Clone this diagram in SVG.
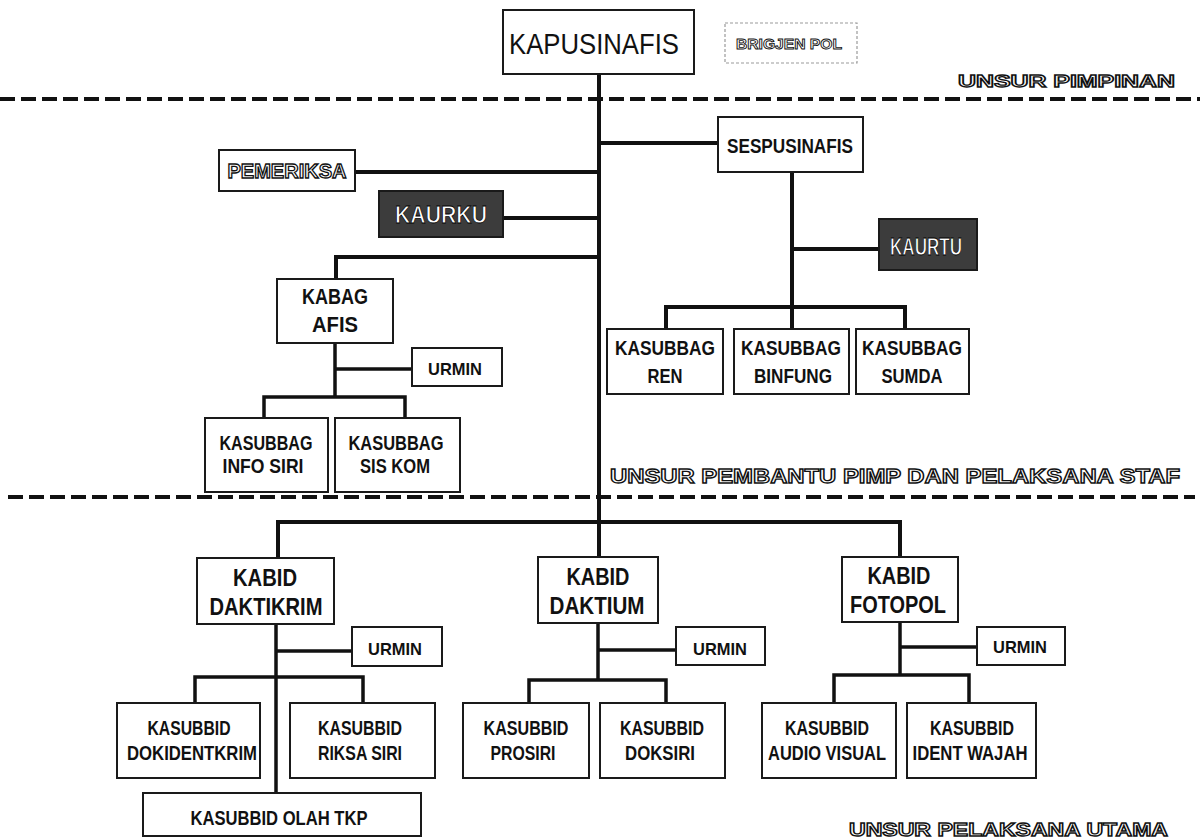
<svg xmlns="http://www.w3.org/2000/svg" width="1200" height="839" viewBox="0 0 1200 839">
<style>
.box{fill:#fff;stroke:#1a1a1a;stroke-width:2}
.dark{fill:#3c3c3c;stroke:#1a1a1a;stroke-width:2}
.faint{fill:#fff;stroke:#9a9a9a;stroke-width:1.2;stroke-dasharray:3 2}
.t{font-family:"Liberation Sans Narrow","Liberation Sans",Arial,sans-serif;font-weight:bold;fill:#111;text-anchor:middle}
.reg{font-weight:normal}
.hollow{font-family:"Liberation Sans",Arial,sans-serif;font-weight:bold;fill:#fff;stroke:#111;stroke-width:1.3;text-anchor:middle}
.inv{font-family:"Liberation Sans",Arial,sans-serif;font-weight:bold;fill:#fff;stroke:#000;stroke-width:0.8;text-anchor:middle}
.lbl{font-family:"Liberation Sans",Arial,sans-serif;font-weight:bold;fill:#fff;stroke:#111;stroke-width:1.3}
.c{fill:none;stroke:#111;stroke-width:4}
.c2{fill:none;stroke:#111;stroke-width:3.5}
.dash{fill:none;stroke:#111;stroke-width:4;stroke-dasharray:15 6}
</style>

<g id="dividers">
<line class="dash" x1="0" y1="99" x2="1200" y2="99"/>
<line class="dash" x1="8" y1="497" x2="1195" y2="497"/>
</g>

<g id="connectors">
<path class="c" d="M599 74V522"/>
<path class="c" d="M599 143H718"/>
<path class="c" d="M355 172H599"/>
<path class="c" d="M503 218H599"/>
<path class="c" d="M599 257H336V279"/>
<path class="c" d="M792 172V329"/>
<path class="c" d="M792 249H879"/>
<path class="c" d="M666 329V307H905V329"/>
<path class="c2" d="M335 343V397"/>
<path class="c2" d="M335 369H412"/>
<path class="c2" d="M264 418V397H405V418"/>
<path class="c" d="M278 558V522H900V557"/>
<path class="c" d="M599 522V557"/>
<path class="c2" d="M276 624V793"/>
<path class="c2" d="M276 651H352"/>
<path class="c2" d="M195 703V677H363V703"/>
<path class="c2" d="M598 623V680"/>
<path class="c2" d="M598 650H676"/>
<path class="c2" d="M529 703V680H666V703"/>
<path class="c2" d="M900 622V675"/>
<path class="c2" d="M900 647H977"/>
<path class="c2" d="M834 703V675H969V703"/>
</g>

<g id="kapusinafis"><rect class="box" x="503" y="10" width="191" height="64"/><text class="t reg" x="594" y="54" font-size="30" textLength="170" lengthAdjust="spacingAndGlyphs">KAPUSINAFIS</text></g>
<g id="brigjen"><rect class="faint" x="725" y="23" width="132" height="40"/><text class="hollow" x="789" y="49" font-size="15" textLength="106" lengthAdjust="spacingAndGlyphs" style="stroke-width:0.9">BRIGJEN POL</text></g>
<g id="sespusinafis"><rect class="box" x="718" y="117" width="145" height="55"/><text class="t" x="790" y="153" font-size="21" textLength="126" lengthAdjust="spacingAndGlyphs">SESPUSINAFIS</text></g>
<g id="kaurtu"><rect class="dark" x="879" y="219" width="98" height="51"/><text class="inv" x="926" y="255" font-size="24" textLength="72" lengthAdjust="spacingAndGlyphs">KAURTU</text></g>
<g id="kasubbag-ren"><rect class="box" x="607" y="329" width="116" height="65"/><text class="t" x="665" y="355" font-size="21" textLength="100" lengthAdjust="spacingAndGlyphs">KASUBBAG</text><text class="t" x="665" y="383" font-size="21" textLength="35" lengthAdjust="spacingAndGlyphs">REN</text></g>
<g id="kasubbag-binfung"><rect class="box" x="734" y="329" width="115" height="65"/><text class="t" x="791" y="355" font-size="21" textLength="100" lengthAdjust="spacingAndGlyphs">KASUBBAG</text><text class="t" x="793" y="383" font-size="21" textLength="78" lengthAdjust="spacingAndGlyphs">BINFUNG</text></g>
<g id="kasubbag-sumda"><rect class="box" x="856" y="329" width="113" height="65"/><text class="t" x="912" y="355" font-size="21" textLength="100" lengthAdjust="spacingAndGlyphs">KASUBBAG</text><text class="t" x="912" y="383" font-size="21" textLength="61" lengthAdjust="spacingAndGlyphs">SUMDA</text></g>
<g id="pemeriksa"><rect class="box" x="219" y="150" width="136" height="41"/><text class="hollow" x="287" y="178" font-size="20" textLength="119" lengthAdjust="spacingAndGlyphs">PEMERIKSA</text></g>
<g id="kaurku"><rect class="dark" x="379" y="191" width="124" height="46"/><text class="inv" x="441" y="223" font-size="24" textLength="92" lengthAdjust="spacingAndGlyphs">KAURKU</text></g>
<g id="kabag-afis"><rect class="box" x="277" y="279" width="116" height="64"/><text class="t" x="335" y="304" font-size="22" textLength="66" lengthAdjust="spacingAndGlyphs">KABAG</text><text class="t" x="335" y="332" font-size="22" textLength="46" lengthAdjust="spacingAndGlyphs">AFIS</text></g>
<g id="urmin-afis"><rect class="box" x="412" y="348" width="90" height="38"/><text class="t" x="455" y="375" font-size="17" textLength="54" lengthAdjust="spacingAndGlyphs">URMIN</text></g>
<g id="kasubbag-infosiri"><rect class="box" x="205" y="418" width="123" height="74"/><text class="t" x="266" y="450" font-size="20" textLength="93" lengthAdjust="spacingAndGlyphs">KASUBBAG</text><text class="t" x="263" y="473" font-size="20" textLength="81" lengthAdjust="spacingAndGlyphs">INFO SIRI</text></g>
<g id="kasubbag-siskom"><rect class="box" x="335" y="418" width="125" height="74"/><text class="t" x="396" y="450" font-size="20" textLength="95" lengthAdjust="spacingAndGlyphs">KASUBBAG</text><text class="t" x="395" y="473" font-size="20" textLength="70" lengthAdjust="spacingAndGlyphs">SIS KOM</text></g>

<g id="kabid-daktikrim"><rect class="box" x="197" y="558" width="137" height="66"/><text class="t" x="265" y="586" font-size="23" textLength="64" lengthAdjust="spacingAndGlyphs">KABID</text><text class="t" x="266" y="615" font-size="23" textLength="113" lengthAdjust="spacingAndGlyphs">DAKTIKRIM</text></g>
<g id="urmin-daktikrim"><rect class="box" x="352" y="627" width="90" height="39"/><text class="t" x="395" y="655" font-size="17" textLength="54" lengthAdjust="spacingAndGlyphs">URMIN</text></g>
<g id="kabid-daktium"><rect class="box" x="538" y="557" width="120" height="66"/><text class="t" x="598" y="585" font-size="23" textLength="63" lengthAdjust="spacingAndGlyphs">KABID</text><text class="t" x="597" y="614" font-size="23" textLength="95" lengthAdjust="spacingAndGlyphs">DAKTIUM</text></g>
<g id="urmin-daktium"><rect class="box" x="676" y="627" width="89" height="38"/><text class="t" x="720" y="655" font-size="17" textLength="54" lengthAdjust="spacingAndGlyphs">URMIN</text></g>
<g id="kabid-fotopol"><rect class="box" x="842" y="557" width="116" height="65"/><text class="t" x="899" y="584" font-size="23" textLength="63" lengthAdjust="spacingAndGlyphs">KABID</text><text class="t" x="898" y="613" font-size="23" textLength="96" lengthAdjust="spacingAndGlyphs">FOTOPOL</text></g>
<g id="urmin-fotopol"><rect class="box" x="977" y="627" width="88" height="38"/><text class="t" x="1020" y="653" font-size="17" textLength="54" lengthAdjust="spacingAndGlyphs">URMIN</text></g>

<g id="kasubbid-dokidentkrim"><rect class="box" x="117" y="703" width="143" height="75"/><text class="t" x="189" y="735" font-size="19.5" textLength="83" lengthAdjust="spacingAndGlyphs">KASUBBID</text><text class="t" x="192" y="760" font-size="19.5" textLength="130" lengthAdjust="spacingAndGlyphs">DOKIDENTKRIM</text></g>
<g id="kasubbid-riksasiri"><rect class="box" x="290" y="703" width="145" height="75"/><text class="t" x="360" y="735" font-size="19.5" textLength="84" lengthAdjust="spacingAndGlyphs">KASUBBID</text><text class="t" x="360" y="760" font-size="19.5" textLength="84" lengthAdjust="spacingAndGlyphs">RIKSA SIRI</text></g>
<g id="kasubbid-prosiri"><rect class="box" x="463" y="703" width="126" height="75"/><text class="t" x="526" y="735" font-size="19.5" textLength="85" lengthAdjust="spacingAndGlyphs">KASUBBID</text><text class="t" x="523" y="760" font-size="19.5" textLength="65" lengthAdjust="spacingAndGlyphs">PROSIRI</text></g>
<g id="kasubbid-doksiri"><rect class="box" x="600" y="703" width="125" height="75"/><text class="t" x="662" y="735" font-size="19.5" textLength="84" lengthAdjust="spacingAndGlyphs">KASUBBID</text><text class="t" x="660" y="760" font-size="19.5" textLength="70" lengthAdjust="spacingAndGlyphs">DOKSIRI</text></g>
<g id="kasubbid-audiovisual"><rect class="box" x="762" y="703" width="134" height="75"/><text class="t" x="827" y="735" font-size="19.5" textLength="84" lengthAdjust="spacingAndGlyphs">KASUBBID</text><text class="t" x="827" y="760" font-size="19.5" textLength="118" lengthAdjust="spacingAndGlyphs">AUDIO VISUAL</text></g>
<g id="kasubbid-identwajah"><rect class="box" x="907" y="703" width="129" height="75"/><text class="t" x="972" y="735" font-size="19.5" textLength="84" lengthAdjust="spacingAndGlyphs">KASUBBID</text><text class="t" x="970" y="760" font-size="19.5" textLength="115" lengthAdjust="spacingAndGlyphs">IDENT WAJAH</text></g>
<g id="kasubbid-olahtkp"><rect class="box" x="143" y="793" width="278" height="43"/><text class="t" x="279" y="825" font-size="20" textLength="177" lengthAdjust="spacingAndGlyphs">KASUBBID OLAH TKP</text></g>

<g id="section-labels">
<text class="lbl" x="958" y="87" font-size="17" textLength="217" lengthAdjust="spacingAndGlyphs">UNSUR PIMPINAN</text>
<text class="lbl" x="610" y="483" font-size="20" textLength="570" lengthAdjust="spacingAndGlyphs">UNSUR PEMBANTU PIMP DAN PELAKSANA STAF</text>
<text class="lbl" x="849" y="836" font-size="18" textLength="319" lengthAdjust="spacingAndGlyphs">UNSUR PELAKSANA UTAMA</text>
</g>
</svg>
